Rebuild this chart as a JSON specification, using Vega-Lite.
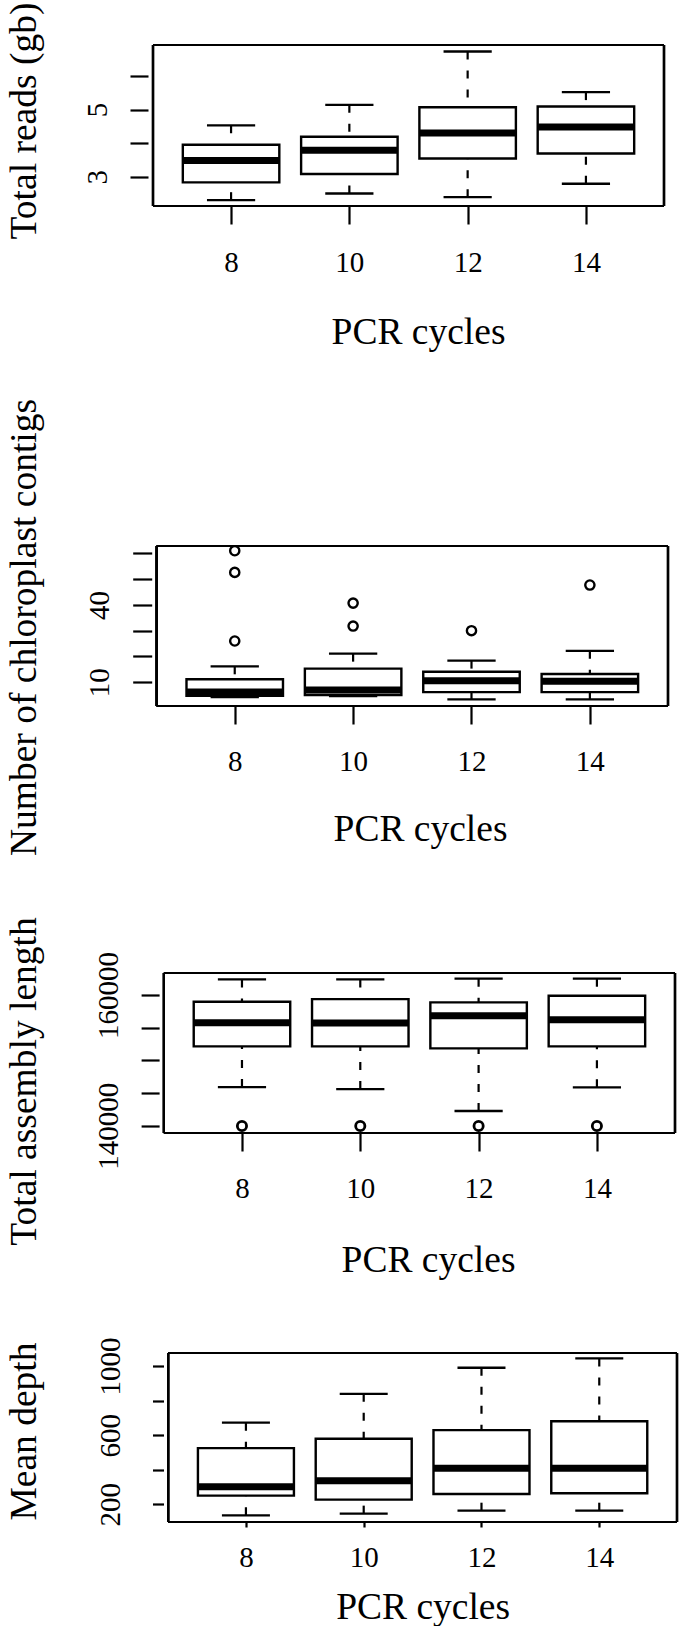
{
  "$schema": "https://vega.github.io/schema/vega-lite/v6.json",
  "background": "white",
  "padding": {"left": 4, "top": 0, "right": 0, "bottom": 0},
  "autosize": {"type": "pad"},
  "bounds": "flush",
  "spacing": 0,
  "config": {
    "view": {"stroke": null},
    "axis": {
      "labelFont": "Liberation Serif", "titleFont": "Liberation Serif",
      "labelColor": "black", "titleColor": "black", "tickColor": "black",
      "labelFontSize": 29, "titleFontSize": 37.5, "titleFontWeight": "normal",
      "domain": false, "grid": false, "tickWidth": 2.2,
      "labelFlush": false, "labelOverlap": false, "labelBound": false
    }
  },
  "datasets": {
    "reads": [
      {"cycle": 8, "lo": 2.30, "q1": 2.83, "med": 3.48, "q3": 3.95, "hi": 4.53},
      {"cycle": 10, "lo": 2.50, "q1": 3.08, "med": 3.79, "q3": 4.19, "hi": 5.14},
      {"cycle": 12, "lo": 2.39, "q1": 3.54, "med": 4.30, "q3": 5.07, "hi": 6.73},
      {"cycle": 14, "lo": 2.79, "q1": 3.69, "med": 4.48, "q3": 5.09, "hi": 5.52}
    ],
    "contigs": [
      {"cycle": 8, "lo": 4.3, "q1": 4.8, "med": 6.2, "q3": 11.2, "hi": 16.2},
      {"cycle": 10, "lo": 4.6, "q1": 5.1, "med": 7.0, "q3": 15.3, "hi": 21.1},
      {"cycle": 12, "lo": 3.4, "q1": 6.2, "med": 10.6, "q3": 14.1, "hi": 18.4},
      {"cycle": 14, "lo": 3.4, "q1": 6.2, "med": 10.4, "q3": 13.2, "hi": 22.2}
    ],
    "contigs_out": [
      {"cycle": 8, "value": 26.0}, {"cycle": 8, "value": 52.6}, {"cycle": 8, "value": 61.0},
      {"cycle": 10, "value": 31.8}, {"cycle": 10, "value": 40.7},
      {"cycle": 12, "value": 30.0},
      {"cycle": 14, "value": 47.7}
    ],
    "length": [
      {"cycle": 8, "lo": 145917, "q1": 152140, "med": 155750, "q3": 158960, "hi": 162385},
      {"cycle": 10, "lo": 145612, "q1": 152140, "med": 155700, "q3": 159370, "hi": 162385},
      {"cycle": 12, "lo": 142250, "q1": 151835, "med": 156820, "q3": 158870, "hi": 162490},
      {"cycle": 14, "lo": 145866, "q1": 152140, "med": 156210, "q3": 159880, "hi": 162490}
    ],
    "length_out": [
      {"cycle": 8, "value": 139950}, {"cycle": 10, "value": 139950},
      {"cycle": 12, "value": 139950}, {"cycle": 14, "value": 139950}
    ],
    "depth": [
      {"cycle": 8, "lo": 136, "q1": 250, "med": 302, "q3": 525, "hi": 672},
      {"cycle": 10, "lo": 146, "q1": 227, "med": 336, "q3": 579, "hi": 839},
      {"cycle": 12, "lo": 163, "q1": 260, "med": 408, "q3": 629, "hi": 990},
      {"cycle": 14, "lo": 163, "q1": 264, "med": 408, "q3": 680, "hi": 1044}
    ]
  },
  "vconcat": [
    {"width": 1, "height": 45, "data": {"values": [{}]}, "mark": {"type": "text", "text": ""}, "encoding": {}},
    {
      "width": 521, "height": 161,
      "encoding": {
        "x": {"field": "cycle", "type": "quantitative", "title": "PCR cycles", "scale": {"domain": [6.68, 15.32], "nice": false, "zero": false},
              "axis": {"title": "PCR cycles", "values": [8, 10, 12, 14], "tickCount": 10, "format": "d", "tickSize": 18, "labelPadding": 47.7, "labelAngle": 0, "labelAlign": "center", "labelBaseline": "alphabetic", "titleX": 270, "titleY": 137.3, "titleAlign": "center", "titleBaseline": "alphabetic"}}
      },
      "layer": [
        {"data": {"name": "reads"}, "mark": {"type": "bar", "fill": "white", "stroke": "black", "strokeWidth": 2.4, "opacity": 1, "size": 96.5},
         "encoding": {"y": {"field": "q1", "type": "quantitative", "title": "Total reads (gb)", "scale": {"domain": [2.127, 6.923], "nice": false, "zero": false},
                            "axis": {"title": "Total reads (gb)", "values": [3, 4, 5, 6], "tickCount": 10, "format": "d", "labelExpr": "datum.value == 3 || datum.value == 5 ? datum.label : ''", "tickSize": 18, "labelPadding": 24, "labelAngle": 270, "labelAlign": "center", "labelBaseline": "alphabetic", "titleAngle": 270, "titleX": -113, "titleY": 75.5, "titleAlign": "center", "titleBaseline": "alphabetic", "offset": 0}},
                      "y2": {"field": "q3"}}},
        {"data": {"name": "reads"}, "mark": {"type": "rule", "color": "black", "strokeWidth": 2.2, "strokeDash": [8, 11]},
         "encoding": {"y": {"field": "hi", "type": "quantitative", "title": "Total reads (gb)"}, "y2": {"field": "q3"}}},
        {"data": {"name": "reads"}, "mark": {"type": "rule", "color": "black", "strokeWidth": 2.2, "strokeDash": [8, 11]},
         "encoding": {"y": {"field": "lo", "type": "quantitative", "title": "Total reads (gb)"}, "y2": {"field": "q1"}}},
        {"data": {"name": "reads"}, "mark": {"type": "tick", "orient": "horizontal", "color": "black", "opacity": 1, "size": 48.2, "thickness": 2.3},
         "encoding": {"y": {"field": "hi", "type": "quantitative", "title": "Total reads (gb)"}}},
        {"data": {"name": "reads"}, "mark": {"type": "tick", "orient": "horizontal", "color": "black", "opacity": 1, "size": 48.2, "thickness": 2.3},
         "encoding": {"y": {"field": "lo", "type": "quantitative", "title": "Total reads (gb)"}}},
        {"data": {"name": "reads"}, "mark": {"type": "tick", "orient": "horizontal", "color": "black", "opacity": 1, "size": 96.5, "thickness": 7},
         "encoding": {"y": {"field": "med", "type": "quantitative", "title": "Total reads (gb)"}}},
        {"data": {"name": "reads"}, "mark": {"type": "rule", "color": "black", "strokeWidth": 2.2},
         "encoding": {"y": {"datum": 2.127, "type": "quantitative", "title": "Total reads (gb)"}, "x": {"datum": 6.68, "type": "quantitative", "title": "PCR cycles"}, "x2": {"datum": 15.32}}},
        {"data": {"name": "reads"}, "mark": {"type": "rule", "color": "black", "strokeWidth": 2.2},
         "encoding": {"y": {"datum": 6.923, "type": "quantitative", "title": "Total reads (gb)"}, "x": {"datum": 6.68, "type": "quantitative", "title": "PCR cycles"}, "x2": {"datum": 15.32}}},
        {"data": {"name": "reads"}, "mark": {"type": "rule", "color": "black", "strokeWidth": 2.2},
         "encoding": {"x": {"datum": 6.68, "type": "quantitative", "title": "PCR cycles"}, "y": {"datum": 2.127, "type": "quantitative", "title": "Total reads (gb)"}, "y2": {"datum": 6.923}}},
        {"data": {"name": "reads"}, "mark": {"type": "rule", "color": "black", "strokeWidth": 2.2},
         "encoding": {"x": {"datum": 15.32, "type": "quantitative", "title": "PCR cycles"}, "y": {"datum": 2.127, "type": "quantitative", "title": "Total reads (gb)"}, "y2": {"datum": 6.923}}}
      ]
    },
    {"width": 1, "height": 340, "data": {"values": [{}]}, "mark": {"type": "text", "text": ""}, "encoding": {}},
    {
      "width": 525, "height": 160,
      "encoding": {
        "x": {"field": "cycle", "type": "quantitative", "title": "PCR cycles", "scale": {"domain": [6.619, 15.32], "nice": false, "zero": false},
              "axis": {"title": "PCR cycles", "values": [8, 10, 12, 14], "tickCount": 10, "format": "d", "tickSize": 18, "labelPadding": 46, "labelAngle": 0, "labelAlign": "center", "labelBaseline": "alphabetic", "titleX": 272, "titleY": 134, "titleAlign": "center", "titleBaseline": "alphabetic"}}
      },
      "layer": [
        {"data": {"name": "contigs"}, "mark": {"type": "bar", "fill": "white", "stroke": "black", "strokeWidth": 2.4, "opacity": 1, "size": 96.5},
         "encoding": {"y": {"field": "q1", "type": "quantitative", "title": "Number of chloroplast contigs", "scale": {"domain": [0.81, 62.83], "nice": false, "zero": false},
                            "axis": {"title": "Number of chloroplast contigs", "values": [10, 20, 30, 40, 50, 60], "tickCount": 10, "format": "d", "labelExpr": "datum.value == 10 || datum.value == 40 ? datum.label : ''", "tickSize": 19, "labelPadding": 24.7, "labelAngle": 270, "labelAlign": "center", "labelBaseline": "alphabetic", "titleAngle": 270, "titleX": -116.7, "titleY": 81, "titleAlign": "center", "titleBaseline": "alphabetic", "offset": -3.7}},
                      "y2": {"field": "q3"}}},
        {"data": {"name": "contigs"}, "mark": {"type": "rule", "color": "black", "strokeWidth": 2.2, "strokeDash": [8, 11]},
         "encoding": {"y": {"field": "hi", "type": "quantitative", "title": "Number of chloroplast contigs"}, "y2": {"field": "q3"}}},
        {"data": {"name": "contigs"}, "mark": {"type": "rule", "color": "black", "strokeWidth": 2.2, "strokeDash": [8, 11]},
         "encoding": {"y": {"field": "lo", "type": "quantitative", "title": "Number of chloroplast contigs"}, "y2": {"field": "q1"}}},
        {"data": {"name": "contigs"}, "mark": {"type": "tick", "orient": "horizontal", "color": "black", "opacity": 1, "size": 48.3, "thickness": 2.3},
         "encoding": {"y": {"field": "hi", "type": "quantitative", "title": "Number of chloroplast contigs"}}},
        {"data": {"name": "contigs"}, "mark": {"type": "tick", "orient": "horizontal", "color": "black", "opacity": 1, "size": 48.3, "thickness": 2.3},
         "encoding": {"y": {"field": "lo", "type": "quantitative", "title": "Number of chloroplast contigs"}}},
        {"data": {"name": "contigs"}, "mark": {"type": "tick", "orient": "horizontal", "color": "black", "opacity": 1, "size": 96.5, "thickness": 7},
         "encoding": {"y": {"field": "med", "type": "quantitative", "title": "Number of chloroplast contigs"}}},
        {"data": {"name": "contigs_out"}, "mark": {"type": "point", "shape": "circle", "filled": false, "color": "black", "strokeWidth": 2.4, "size": 85, "opacity": 1},
         "encoding": {"y": {"field": "value", "type": "quantitative", "title": "Number of chloroplast contigs"}}},
        {"data": {"name": "contigs"}, "mark": {"type": "rule", "color": "black", "strokeWidth": 2.2},
         "encoding": {"y": {"datum": 0.81, "type": "quantitative", "title": "Number of chloroplast contigs"}, "x": {"datum": 6.68, "type": "quantitative", "title": "PCR cycles"}, "x2": {"datum": 15.32}}},
        {"data": {"name": "contigs"}, "mark": {"type": "rule", "color": "black", "strokeWidth": 2.2},
         "encoding": {"y": {"datum": 62.83, "type": "quantitative", "title": "Number of chloroplast contigs"}, "x": {"datum": 6.68, "type": "quantitative", "title": "PCR cycles"}, "x2": {"datum": 15.32}}},
        {"data": {"name": "contigs"}, "mark": {"type": "rule", "color": "black", "strokeWidth": 2.2},
         "encoding": {"x": {"datum": 6.68, "type": "quantitative", "title": "PCR cycles"}, "y": {"datum": 0.81, "type": "quantitative", "title": "Number of chloroplast contigs"}, "y2": {"datum": 62.83}}},
        {"data": {"name": "contigs"}, "mark": {"type": "rule", "color": "black", "strokeWidth": 2.2},
         "encoding": {"x": {"datum": 15.32, "type": "quantitative", "title": "PCR cycles"}, "y": {"datum": 0.81, "type": "quantitative", "title": "Number of chloroplast contigs"}, "y2": {"datum": 62.83}}}
      ]
    },
    {"width": 1, "height": 267, "data": {"values": [{}]}, "mark": {"type": "text", "text": ""}, "encoding": {}},
    {
      "width": 532, "height": 160,
      "encoding": {
        "x": {"field": "cycle", "type": "quantitative", "title": "PCR cycles", "scale": {"domain": [6.496, 15.32], "nice": false, "zero": false},
              "axis": {"title": "PCR cycles", "values": [8, 10, 12, 14], "tickCount": 10, "format": "d", "tickSize": 18, "labelPadding": 46.7, "labelAngle": 0, "labelAlign": "center", "labelBaseline": "alphabetic", "titleX": 280, "titleY": 138.7, "titleAlign": "center", "titleBaseline": "alphabetic"}}
      },
      "layer": [
        {"data": {"name": "length"}, "mark": {"type": "bar", "fill": "white", "stroke": "black", "strokeWidth": 2.4, "opacity": 1, "size": 96.5},
         "encoding": {"y": {"field": "q1", "type": "quantitative", "title": "Total assembly length", "scale": {"domain": [138883, 163366], "nice": false, "zero": false},
                            "axis": {"title": "Total assembly length", "values": [140000, 145000, 150000, 155000, 160000], "tickCount": 10, "format": "d", "labelExpr": "datum.value == 140000 || datum.value == 160000 ? datum.label : ''", "tickSize": 18, "labelPadding": 24, "labelAngle": 270, "labelAlign": "center", "labelBaseline": "alphabetic", "titleAngle": 270, "titleX": -124.1, "titleY": 108, "titleAlign": "center", "titleBaseline": "alphabetic", "offset": -11.1}},
                      "y2": {"field": "q3"}}},
        {"data": {"name": "length"}, "mark": {"type": "rule", "color": "black", "strokeWidth": 2.2, "strokeDash": [8, 11]},
         "encoding": {"y": {"field": "hi", "type": "quantitative", "title": "Total assembly length"}, "y2": {"field": "q3"}}},
        {"data": {"name": "length"}, "mark": {"type": "rule", "color": "black", "strokeWidth": 2.2, "strokeDash": [8, 11]},
         "encoding": {"y": {"field": "lo", "type": "quantitative", "title": "Total assembly length"}, "y2": {"field": "q1"}}},
        {"data": {"name": "length"}, "mark": {"type": "tick", "orient": "horizontal", "color": "black", "opacity": 1, "size": 48.2, "thickness": 2.3},
         "encoding": {"y": {"field": "hi", "type": "quantitative", "title": "Total assembly length"}}},
        {"data": {"name": "length"}, "mark": {"type": "tick", "orient": "horizontal", "color": "black", "opacity": 1, "size": 48.2, "thickness": 2.3},
         "encoding": {"y": {"field": "lo", "type": "quantitative", "title": "Total assembly length"}}},
        {"data": {"name": "length"}, "mark": {"type": "tick", "orient": "horizontal", "color": "black", "opacity": 1, "size": 96.5, "thickness": 7},
         "encoding": {"y": {"field": "med", "type": "quantitative", "title": "Total assembly length"}}},
        {"data": {"name": "length_out"}, "mark": {"type": "point", "shape": "circle", "filled": false, "color": "black", "strokeWidth": 2.8, "size": 85, "opacity": 1},
         "encoding": {"y": {"field": "value", "type": "quantitative", "title": "Total assembly length"}}},
        {"data": {"name": "length"}, "mark": {"type": "rule", "color": "black", "strokeWidth": 2.2},
         "encoding": {"y": {"datum": 138883, "type": "quantitative", "title": "Total assembly length"}, "x": {"datum": 6.68, "type": "quantitative", "title": "PCR cycles"}, "x2": {"datum": 15.32}}},
        {"data": {"name": "length"}, "mark": {"type": "rule", "color": "black", "strokeWidth": 2.2},
         "encoding": {"y": {"datum": 163366, "type": "quantitative", "title": "Total assembly length"}, "x": {"datum": 6.68, "type": "quantitative", "title": "PCR cycles"}, "x2": {"datum": 15.32}}},
        {"data": {"name": "length"}, "mark": {"type": "rule", "color": "black", "strokeWidth": 2.2},
         "encoding": {"x": {"datum": 6.68, "type": "quantitative", "title": "PCR cycles"}, "y": {"datum": 138883, "type": "quantitative", "title": "Total assembly length"}, "y2": {"datum": 163366}}},
        {"data": {"name": "length"}, "mark": {"type": "rule", "color": "black", "strokeWidth": 2.2},
         "encoding": {"x": {"datum": 15.32, "type": "quantitative", "title": "PCR cycles"}, "y": {"datum": 138883, "type": "quantitative", "title": "Total assembly length"}, "y2": {"datum": 163366}}}
      ]
    },
    {"width": 1, "height": 220, "data": {"values": [{}]}, "mark": {"type": "text", "text": ""}, "encoding": {}},
    {
      "width": 534, "height": 169,
      "encoding": {
        "x": {"field": "cycle", "type": "quantitative", "title": "PCR cycles", "scale": {"domain": [6.422, 15.32], "nice": false, "zero": false},
              "axis": {"title": "PCR cycles", "values": [8, 10, 12, 14], "tickCount": 10, "format": "d", "tickSize": 5, "labelPadding": 39.7, "labelAngle": 0, "labelAlign": "center", "labelBaseline": "alphabetic", "titleX": 274.6, "titleY": 96, "titleAlign": "center", "titleBaseline": "alphabetic"}}
      },
      "layer": [
        {"data": {"name": "depth"}, "mark": {"type": "bar", "fill": "white", "stroke": "black", "strokeWidth": 2.4, "opacity": 1, "size": 96},
         "encoding": {"y": {"field": "q1", "type": "quantitative", "title": "Mean depth", "scale": {"domain": [97.6, 1075.2], "nice": false, "zero": false},
                            "axis": {"title": "Mean depth", "values": [200, 400, 600, 800, 1000], "tickCount": 10, "format": "d", "labelExpr": "datum.value == 400 || datum.value == 800 ? '' : datum.label", "tickSize": 11, "labelPadding": 32.7, "labelAngle": 270, "labelAlign": "center", "labelBaseline": "alphabetic", "titleAngle": 270, "titleX": -128.5, "titleY": 78, "titleAlign": "center", "titleBaseline": "alphabetic", "offset": -15.5}},
                      "y2": {"field": "q3"}}},
        {"data": {"name": "depth"}, "mark": {"type": "rule", "color": "black", "strokeWidth": 2.2, "strokeDash": [8, 11]},
         "encoding": {"y": {"field": "hi", "type": "quantitative", "title": "Mean depth"}, "y2": {"field": "q3"}}},
        {"data": {"name": "depth"}, "mark": {"type": "rule", "color": "black", "strokeWidth": 2.2, "strokeDash": [8, 11]},
         "encoding": {"y": {"field": "lo", "type": "quantitative", "title": "Mean depth"}, "y2": {"field": "q1"}}},
        {"data": {"name": "depth"}, "mark": {"type": "tick", "orient": "horizontal", "color": "black", "opacity": 1, "size": 48, "thickness": 2.3},
         "encoding": {"y": {"field": "hi", "type": "quantitative", "title": "Mean depth"}}},
        {"data": {"name": "depth"}, "mark": {"type": "tick", "orient": "horizontal", "color": "black", "opacity": 1, "size": 48, "thickness": 2.3},
         "encoding": {"y": {"field": "lo", "type": "quantitative", "title": "Mean depth"}}},
        {"data": {"name": "depth"}, "mark": {"type": "tick", "orient": "horizontal", "color": "black", "opacity": 1, "size": 96, "thickness": 7},
         "encoding": {"y": {"field": "med", "type": "quantitative", "title": "Mean depth"}}},
        {"data": {"name": "depth"}, "mark": {"type": "rule", "color": "black", "strokeWidth": 2.2},
         "encoding": {"y": {"datum": 97.6, "type": "quantitative", "title": "Mean depth"}, "x": {"datum": 6.68, "type": "quantitative", "title": "PCR cycles"}, "x2": {"datum": 15.32}}},
        {"data": {"name": "depth"}, "mark": {"type": "rule", "color": "black", "strokeWidth": 2.2},
         "encoding": {"y": {"datum": 1075.2, "type": "quantitative", "title": "Mean depth"}, "x": {"datum": 6.68, "type": "quantitative", "title": "PCR cycles"}, "x2": {"datum": 15.32}}},
        {"data": {"name": "depth"}, "mark": {"type": "rule", "color": "black", "strokeWidth": 2.2},
         "encoding": {"x": {"datum": 6.68, "type": "quantitative", "title": "PCR cycles"}, "y": {"datum": 97.6, "type": "quantitative", "title": "Mean depth"}, "y2": {"datum": 1075.2}}},
        {"data": {"name": "depth"}, "mark": {"type": "rule", "color": "black", "strokeWidth": 2.2},
         "encoding": {"x": {"datum": 15.32, "type": "quantitative", "title": "PCR cycles"}, "y": {"datum": 97.6, "type": "quantitative", "title": "Mean depth"}, "y2": {"datum": 1075.2}}}
      ]
    }
  ]
}
